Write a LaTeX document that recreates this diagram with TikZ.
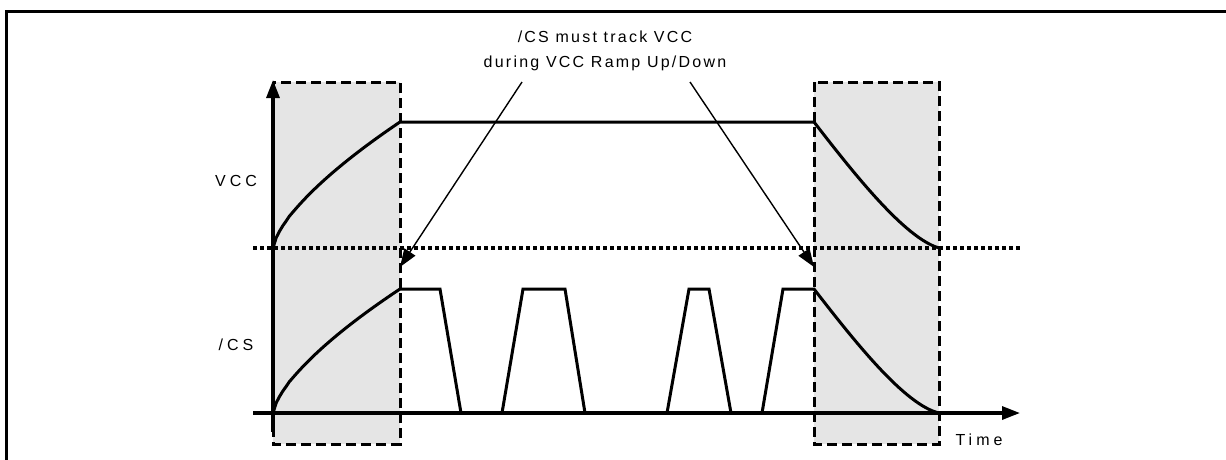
\documentclass[tikz,border=0pt]{standalone}
\usepackage{fontspec}
\setmainfont{Liberation Sans}
\newfontfamily\notefont{Liberation Sans}[LetterSpace=14]
\newfontfamily\lblfont{Liberation Sans}[LetterSpace=25]
\usetikzlibrary{arrows.meta}
\begin{document}
\begin{tikzpicture}[x=1pt,y=-1pt,
  lbl/.style={font=\lblfont\fontsize{16}{18}\selectfont, inner sep=0pt},
  notelbl/.style={font=\notefont\fontsize{16}{25}\selectfont, inner sep=0pt, align=center},
  shade/.style={fill=black!10, draw=none},
  dashbox/.style={draw=black, line width=3pt, dash pattern=on 10pt off 5pt},
  axis/.style={line width=3.2pt, -{Triangle[length=18pt,width=13pt]}},
  sig/.style={line width=3pt, line join=miter},
  thres/.style={line width=4pt, dash pattern=on 4pt off 3pt},
  note/.style={line width=1.4pt, -{Triangle[length=18pt,width=13pt]}}]
\useasboundingbox (0,0) rectangle (1226,459);
\draw[line width=3pt] (6,470) -- (6,11) -- (1240,11);
% shaded regions
\fill[shade] (273,82) rectangle (400,444);
\fill[shade] (814,82) rectangle (939,444);
% threshold
\draw[thres] (253,248) -- (1022,248);
% dashed boxes
\draw[dashbox] (273,82) rectangle (400,444);
\draw[dashbox] (814,82) rectangle (939,444);
% axes
\coordinate (o) at (273,413);
\coordinate (ytop) at (273,80);
\coordinate (xend) at (1020,413);
\draw[axis] (273,432) -- (ytop);
\draw[axis] (253,413) -- (xend);
% VCC
\draw[sig] plot[domain=0:1, samples=40, variable=\t] ({273+127*\t},{248-126*(\t)^0.68})
  -- (814,122) .. controls (855,175) and (905,238) .. (939,248);
% CS
\draw[sig] plot[domain=0:1, samples=40, variable=\t] ({273+127*\t},{413-124*(\t)^0.68})
  -- (440,289) -- (461,413);
\draw[sig] (502,413) -- (523,289) -- (565,289) -- (585,413);
\draw[sig] (667,413) -- (689,289) -- (709,289) -- (731,413);
\draw[sig] (762,413) -- (783,289) -- (814,289) .. controls (855,342) and (905,405) .. (939,413);
% labels
\node[lbl] (vcc) at (236,181) {VCC};
\node[lbl] (cs) at (236,345) {/CS};
\node[lbl] (time) at (979,440) {Time};
\node[notelbl] (note) at (605,51) {/CS must track VCC\\during VCC Ramp Up/Down};
\coordinate (a1s) at (522,82);
\coordinate (a1e) at (400,267);
\coordinate (a2s) at (690,82);
\coordinate (a2e) at (814,267);
\draw[note] (a1s) -- (a1e);
\draw[note] (a2s) -- (a2e);
\end{tikzpicture}
\end{document}
